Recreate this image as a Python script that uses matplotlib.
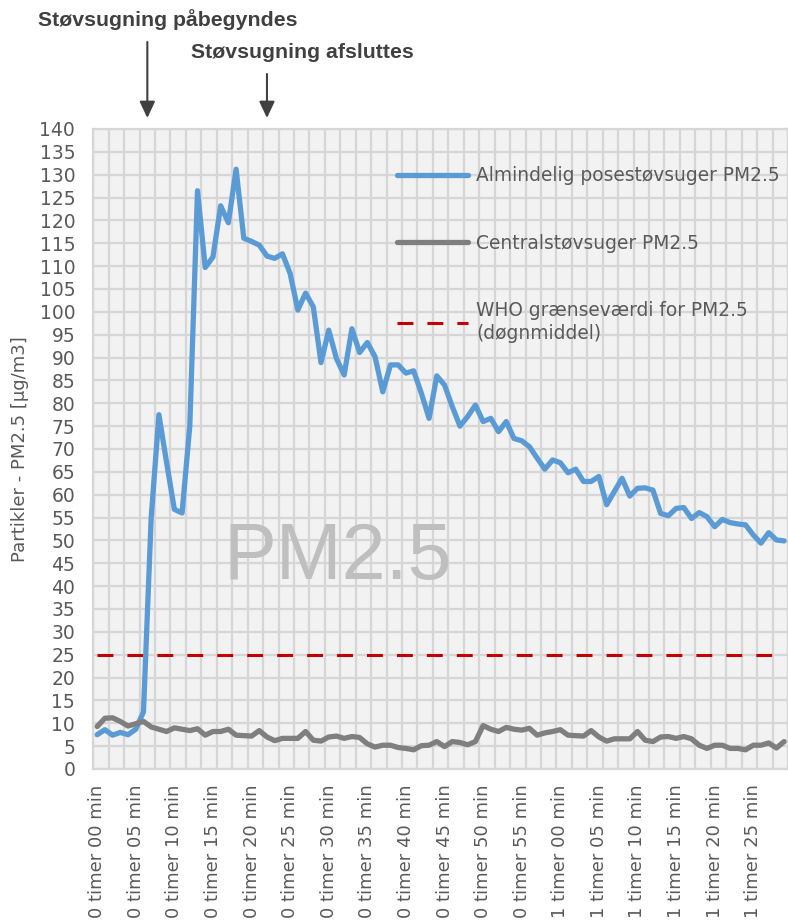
import matplotlib
matplotlib.use("Agg")
import matplotlib.pyplot as plt
import numpy as np

# ---------------- data ----------------
minutes = list(range(90))
tick_minutes = list(range(0, 90, 5))
tick_labels = [f"{m // 60} timer {m % 60:02d} min" for m in tick_minutes]

bag_vacuum = [7.5, 8.6, 7.4, 8.0, 7.5, 8.7, 12.5, 55, 77.5, 67,
              56.8, 56, 75, 126.5, 109.7, 112, 123.2, 119.5, 131.2, 116.1,
              115.4, 114.6, 112.2, 111.7, 112.7, 108.4, 100.4, 104.1, 101.1, 88.9,
              96.0, 89.8, 86.2, 96.3, 91.1, 93.3, 90.2, 82.5, 88.4, 88.4,
              86.6, 87.1, 82.2, 76.7, 86.0, 84.0, 79.3, 75.0, 77.1, 79.6,
              76.0, 76.7, 73.8, 76.0, 72.3, 71.8, 70.5, 68.0, 65.6, 67.6,
              67.0, 64.8, 65.6, 62.9, 62.9, 64.0, 57.8, 60.7, 63.6, 59.7,
              61.4, 61.5, 61.0, 55.9, 55.4, 57.0, 57.2, 54.8, 56.1, 55.2,
              53.0, 54.6, 53.9, 53.6, 53.4, 51.2, 49.4, 51.7, 50.1, 49.9]

central_vacuum = [9.3, 11.1, 11.2, 10.4, 9.4, 9.9, 10.4, 9.2, 8.7, 8.2,
                  9.0, 8.7, 8.4, 8.8, 7.4, 8.2, 8.2, 8.7, 7.4, 7.3,
                  7.2, 8.4, 7.0, 6.2, 6.7, 6.7, 6.7, 8.2, 6.3, 6.1,
                  7.0, 7.2, 6.7, 7.1, 6.9, 5.5, 4.8, 5.2, 5.2, 4.7,
                  4.5, 4.2, 5.1, 5.2, 6.0, 4.9, 6.0, 5.8, 5.3, 6.0,
                  9.5, 8.7, 8.2, 9.1, 8.7, 8.5, 8.9, 7.4, 7.9, 8.2,
                  8.6, 7.4, 7.3, 7.2, 8.4, 7.0, 6.1, 6.6, 6.6, 6.6,
                  8.2, 6.3, 6.0, 7.0, 7.1, 6.7, 7.1, 6.6, 5.2, 4.5,
                  5.2, 5.2, 4.5, 4.5, 4.2, 5.2, 5.2, 5.7, 4.6, 6.0]

who_limit = 25
start_minute = 6.5
end_minute = 22

series_labels = ["Almindelig posestøvsuger PM2.5",
                 "Centralstøvsuger PM2.5",
                 "WHO grænseværdi for PM2.5\n(døgnmiddel)"]

# ---------------- style ----------------
BLUE = "#5B9BD5"
GRAY = "#7F7F7F"
RED = "#C00000"
TXT = "#595959"
GRID = "#D6D6D6"

plt.rcParams["font.family"] = ["DejaVu Sans"]

fig = plt.figure(figsize=(7.88, 9.24), dpi=100)
ax = fig.add_axes([93.3 / 788, 1 - 769 / 924, 1 - 93.3 / 788, (769 - 129) / 924])
ax.set_facecolor("#F2F2F2")
ax.set_axisbelow(True)

ax.plot(minutes, [who_limit] * len(minutes), color=RED, lw=2.2,
        dashes=(5.2, 4.6), zorder=2.5, label=series_labels[2])
ax.plot(minutes, bag_vacuum, color=BLUE, lw=3.8, zorder=3,
        solid_capstyle="round", solid_joinstyle="round", label=series_labels[0])
ax.plot(minutes, central_vacuum, color=GRAY, lw=3.8, zorder=3.2,
        solid_capstyle="round", solid_joinstyle="round", label=series_labels[1])

ax.set_xlim(-0.5, len(minutes) - 0.5)
ax.set_ylim(0, 140)
ax.set_yticks(np.arange(0, 141, 5))
ax.set_xticks(tick_minutes)
ax.set_xticklabels(tick_labels, rotation=90, fontsize=13, color=TXT)
ax.set_xticks(np.arange(-0.5, len(minutes), 2), minor=True)
ax.tick_params(axis="y", length=0, pad=13, labelsize=13.5, labelcolor=TXT)
ax.tick_params(axis="x", which="both", length=0, pad=11)
ax.yaxis.grid(True, which="major", color=GRID, lw=1.6)
ax.xaxis.grid(True, which="minor", color=GRID, lw=1.6)
ax.xaxis.grid(False, which="major")
for s in ax.spines.values():
    s.set_color(GRID)
    s.set_linewidth(1.6)

ax.set_ylabel("Partikler - PM2.5 [µg/m3]", fontsize=13, color=TXT)
ax.yaxis.set_label_coords(-0.092, 0.5)

ax.text(0.352, 0.329, "PM2.5", transform=ax.transAxes, ha="center", va="center",
        fontsize=57, color="#BFBFBF", family="Liberation Sans", zorder=1)

handles, labels = ax.get_legend_handles_labels()
order = [1, 2, 0]
leg = ax.legend([handles[i] for i in order], [labels[i] for i in order],
                loc="upper left", bbox_to_anchor=(0.437, 0.942), frameon=False,
                fontsize=13.4, handlelength=3.8, handletextpad=0.45,
                labelspacing=2.6, borderpad=0, borderaxespad=0)
for t in leg.get_texts():
    t.set_color(TXT)
    t.set_linespacing(1.3)

# annotation arrows
trans = ax.get_xaxis_transform()
arrow_kw = dict(arrowstyle="-|>,head_length=1.0,head_width=0.47", color="#404040",
                lw=1.5, mutation_scale=10, shrinkA=0, shrinkB=0)
ax.annotate("", xy=(start_minute, (769 - 118) / 640), xycoords=trans,
            xytext=(start_minute, (769 - 42) / 640), textcoords=trans,
            arrowprops=arrow_kw, annotation_clip=False)
ax.annotate("", xy=(end_minute, (769 - 118) / 640), xycoords=trans,
            xytext=(end_minute, (769 - 74) / 640), textcoords=trans,
            arrowprops=arrow_kw, annotation_clip=False)
fig.text(168 / 788, 1 - 20 / 924, "Støvsugning påbegyndes", ha="center", va="center",
         fontsize=15.3, fontweight="bold", color="#404040", family="Liberation Sans")
fig.text(302 / 788, 1 - 52 / 924, "Støvsugning afsluttes", ha="center", va="center",
         fontsize=15.3, fontweight="bold", color="#404040", family="Liberation Sans")

fig.savefig("out.png", dpi=100)
